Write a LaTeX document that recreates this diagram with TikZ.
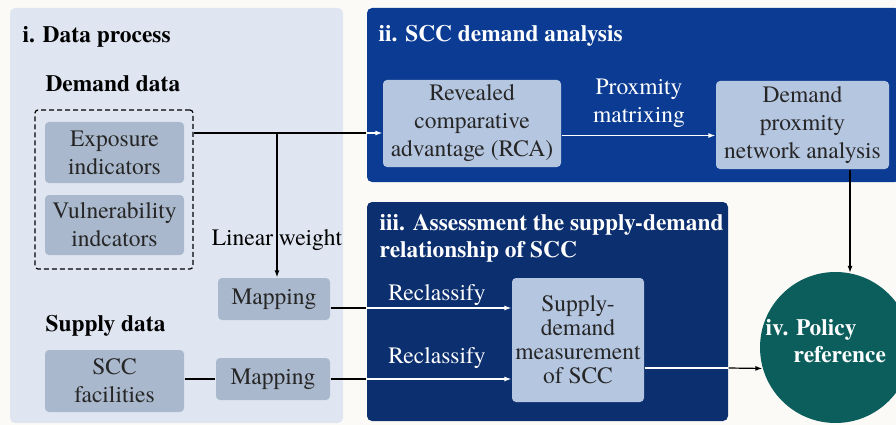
\documentclass[tikz,border=0pt]{standalone}
\usepackage{fontspec}
\setmainfont{texgyretermes}[Extension=.otf, UprightFont=*-regular,
  BoldFont=*-bold, ItalicFont=*-italic, BoldItalicFont=*-bolditalic]
\usetikzlibrary{arrows.meta}

\definecolor{pagebg}{HTML}{FBFAF7}
\definecolor{dataproc}{HTML}{DFE6F2}
\definecolor{datagray}{HTML}{A9B8CC}
\definecolor{demandblue}{HTML}{0B3B92}
\definecolor{assessnavy}{HTML}{0C2F6F}
\definecolor{lightbox}{HTML}{B5C6E0}
\definecolor{policyteal}{HTML}{0B5E5C}

\newcommand{\txtfont}{\fontsize{23.5}{28}\selectfont}
\newcommand{\ttlfont}{\fontsize{23.4}{27}\selectfont\bfseries}

\begin{document}
\begin{tikzpicture}[x=1pt, y=-1pt, line width=1.2pt,
    >={Latex[length=7pt,width=5pt]},
    panel/.style={rectangle, rounded corners=5pt, inner sep=0pt},
    graybox/.style={fill=datagray, rounded corners=4pt, inner sep=0pt,
      align=center, font=\txtfont, text=black!85},
    bluebox/.style={fill=lightbox, rounded corners=4pt, inner sep=0pt,
      align=center, font=\txtfont, text=black!85},
    paneltitle/.style={anchor=west, inner sep=0pt, font=\ttlfont},
    linklabel/.style={inner sep=0pt, align=center, font=\txtfont}]
      \useasboundingbox (0,0) rectangle (896,425);
      \clip (0,0) rectangle (896,425);
      \fill[pagebg] (0,0) rectangle (896,425);

      % Draw the four panels
      \node[panel, fill=dataproc, minimum width=333pt, minimum height=415pt] (pone) at (176.5,215.5) {};
      \node[panel, fill=demandblue, minimum width=533pt, minimum height=174pt] (ptwo) at (633.5,95) {};
      \node[panel, fill=assessnavy, minimum width=361pt, minimum height=219pt] (pthree) at (547.5,311.5) {};
      \node[circle, fill=policyteal, minimum size=151pt, inner sep=0pt] (policy) at (835.5,347.5) {};

      % Panel i: data process
      \node[paneltitle] (tone) at (22,37) {i. Data process};
      \node[paneltitle] (ddata) at (45,84) {Demand data};
      \node[draw, dashed, dash pattern=on 5pt off 3pt, rounded corners=3pt,
        minimum width=158pt, minimum height=159pt] (dgroup) at (114,189.5) {};
      \node[graybox, minimum width=139pt, minimum height=61pt] (expo) at (114.5,152.5) {Exposure\\indicators};
      \node[graybox, minimum width=139pt, minimum height=60pt] (vuln) at (114.5,225) {Vulnerability\\indcators};
      \node[linklabel] (lw) at (277,240) {Linear weight};
      \node[graybox, minimum width=112pt, minimum height=42pt] (mapa) at (274,299) {Mapping};
      \node[paneltitle] (sdata) at (45,326) {Supply data};
      \node[graybox, minimum width=139pt, minimum height=62pt] (fac) at (114.5,381) {SCC\\facilities};
      \node[graybox, minimum width=114pt, minimum height=42pt] (mapb) at (273,379) {Mapping};

      % Panel ii: demand analysis
      \node[paneltitle, text=white] (ttwo) at (378,36) {ii. SCC demand analysis};
      \node[bluebox, minimum width=178pt, minimum height=87pt] (rca) at (472,123.5) {Revealed\\comparative\\advantage (RCA)};
      \node[linklabel, text=white] (pm) at (639,103) {Proxmity\\matrixing};
      \node[bluebox, minimum width=173pt, minimum height=88pt] (dpn) at (802.5,125) {Demand\\proxmity\\network analysis};

      % Panel iii: supply-demand assessment
      \node[paneltitle, text=white, align=left] (tthree) at (379,238.5) {iii. Assessment the supply-demand\\relationship of SCC};
      \node[linklabel, text=white] (rca1) at (437,295) {Reclassify};
      \node[linklabel, text=white] (rca2) at (437,358) {Reclassify};
      \node[bluebox, minimum width=132pt, minimum height=124pt,
        font=\fontsize{23.5}{24}\selectfont] (sd) at (578,340) {Supply-\\demand\\measurement\\of SCC};

      % Panel iv: policy
      \node[paneltitle, text=white, align=left] (ptext) at (765,341.5) {iv. Policy\\\hspace*{28pt}reference};

      % Connectors
      \coordinate (split) at (277,133);
      \draw (dgroup.east |- split) -- (split -| ptwo.west);
      \draw[white, ->] (split -| ptwo.west) -- (split -| rca.west);
      \draw[->] (split) -- (split |- mapa.north);
      \draw ([yshift=-9pt]mapa.east) -- ([yshift=-9pt]mapa.east -| pthree.west);
      \draw[white, ->] ([yshift=-9pt]mapa.east -| pthree.west) -- ([yshift=-9pt]mapa.east -| sd.west);
      \draw (mapb.west -| fac.east) -- (mapb.west);
      \draw (mapb.east) -- (mapb.east -| pthree.west);
      \draw[white, ->] (mapb.east -| pthree.west) -- (mapb.east -| sd.west);
      \draw[white, ->] ([yshift=-12pt]rca.east) -- ([yshift=-12pt]rca.east -| dpn.west);
      \draw[->] (dpn.south -| policy.79) -- (policy.79);
      \draw[white] ([yshift=-28pt]sd.east) -- ([yshift=-28pt]sd.east -| pthree.east);
      \draw[->] ([yshift=-28pt]sd.east -| pthree.east) -- (policy.196);
\end{tikzpicture}
\end{document}
